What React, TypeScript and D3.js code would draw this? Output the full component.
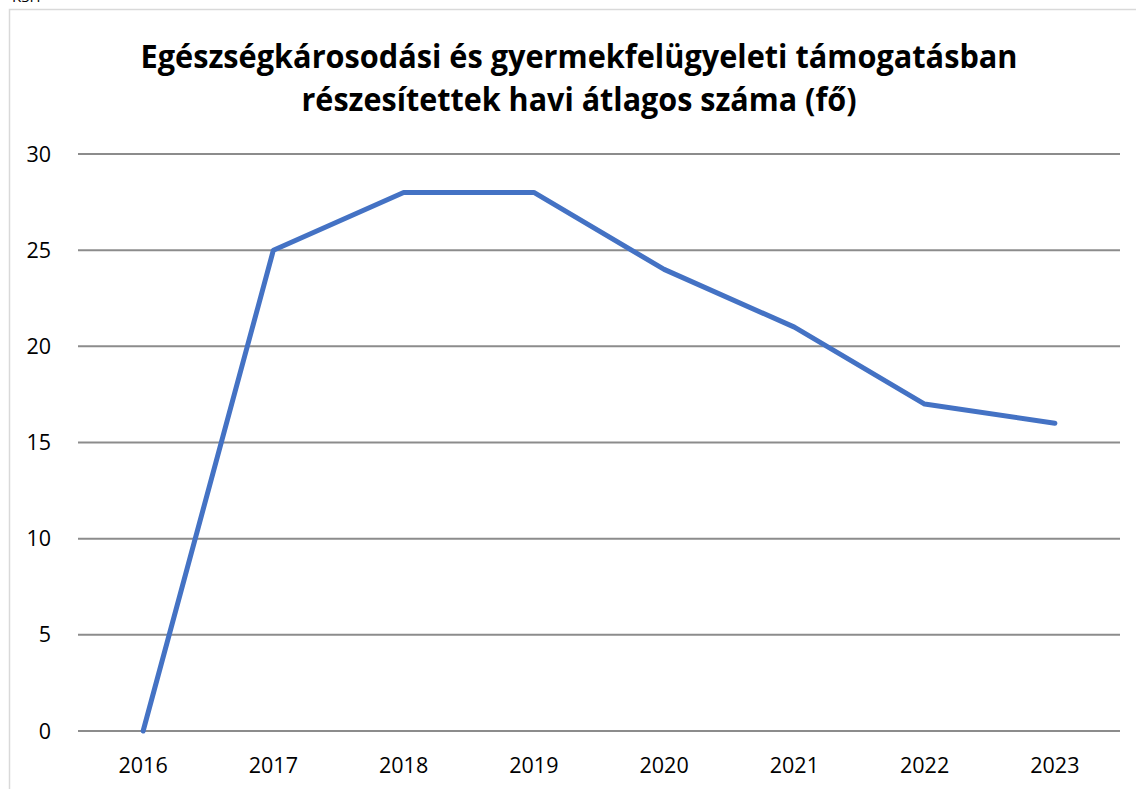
import React, { useEffect, useRef } from 'react';
import * as d3 from 'd3';

const years = ['2016', '2017', '2018', '2019', '2020', '2021', '2022', '2023'];
const values = [0, 25, 28, 28, 24, 21, 17, 16];
const yTicks = [0, 5, 10, 15, 20, 25, 30];
const titleLines = [
  'Egészségkárosodási és gyermekfelügyeleti támogatásban',
  'részesítettek havi átlagos száma (fő)',
];
const source = 'KSH';

const width = 1136;
const height = 789;

const App = () => {
  const svgRef = useRef<SVGSVGElement>(null);

  useEffect(() => {
    const svg = d3.select(svgRef.current);
    svg.selectAll('*').remove();

    const margin = { top: 154, right: 16, bottom: 58, left: 78 };
    const plotRight = width - margin.right;
    const plotBottom = height - margin.bottom;

    // chart frame
    svg.append('path')
      .attr('d', `M9.5,${height} V9.5 H${width}`)
      .attr('fill', 'none')
      .attr('stroke', '#d9d9d9')
      .attr('stroke-width', 1.5);

    // source label, cut off at the top edge like in the original
    svg.append('text')
      .attr('x', 12)
      .attr('y', 2)
      .attr('font-family', 'Open Sans, sans-serif')
      .attr('font-size', 15)
      .attr('fill', '#000')
      .text(source);

    const x = d3.scaleBand<string>()
      .domain(years)
      .range([margin.left, plotRight]);

    const y = d3.scaleLinear()
      .domain([0, 30])
      .range([plotBottom, margin.top]);

    // gridlines
    svg.append('g')
      .selectAll('line')
      .data(yTicks)
      .join('line')
      .attr('x1', margin.left)
      .attr('x2', plotRight)
      .attr('y1', d => y(d))
      .attr('y2', d => y(d))
      .attr('stroke', '#8c8c8c')
      .attr('stroke-width', 2);

    // y labels
    svg.append('g')
      .selectAll('text')
      .data(yTicks)
      .join('text')
      .attr('x', 51)
      .attr('y', d => y(d))
      .attr('dy', '0.35em')
      .attr('text-anchor', 'end')
      .attr('font-family', 'Open Sans, sans-serif')
      .attr('font-size', 21.5)
      .attr('fill', '#000')
      .text(d => d);

    // x labels
    svg.append('g')
      .selectAll('text')
      .data(years)
      .join('text')
      .attr('x', d => (x(d) as number) + x.bandwidth() / 2)
      .attr('y', 773)
      .attr('text-anchor', 'middle')
      .attr('font-family', 'Open Sans, sans-serif')
      .attr('font-size', 21.5)
      .attr('fill', '#000')
      .text(d => d);

    const line = d3.line<number>()
      .x((_, i) => (x(years[i]) as number) + x.bandwidth() / 2)
      .y(d => y(d));

    svg.append('path')
      .datum(values)
      .attr('d', line)
      .attr('fill', 'none')
      .attr('stroke', '#4472c4')
      .attr('stroke-width', 5)
      .attr('stroke-linecap', 'round')
      .attr('stroke-linejoin', 'round');

    // title
    const titleWidths = [877, 555];
    svg.append('g')
      .selectAll('text')
      .data(titleLines)
      .join('text')
      .attr('x', 579)
      .attr('y', (_, i) => 68 + i * 43)
      .attr('text-anchor', 'middle')
      .attr('font-family', 'Open Sans, sans-serif')
      .attr('font-weight', 'bold')
      .attr('font-size', 32)
      .attr('textLength', (_, i) => titleWidths[i])
      .attr('lengthAdjust', 'spacingAndGlyphs')
      .attr('fill', '#000')
      .text(d => d);
  }, []);

  return (
    <svg
      ref={svgRef}
      width={width}
      height={height}
      style={{ position: 'absolute', left: 0, top: 0, background: '#fff' }}
    />
  );
};

export default App;
